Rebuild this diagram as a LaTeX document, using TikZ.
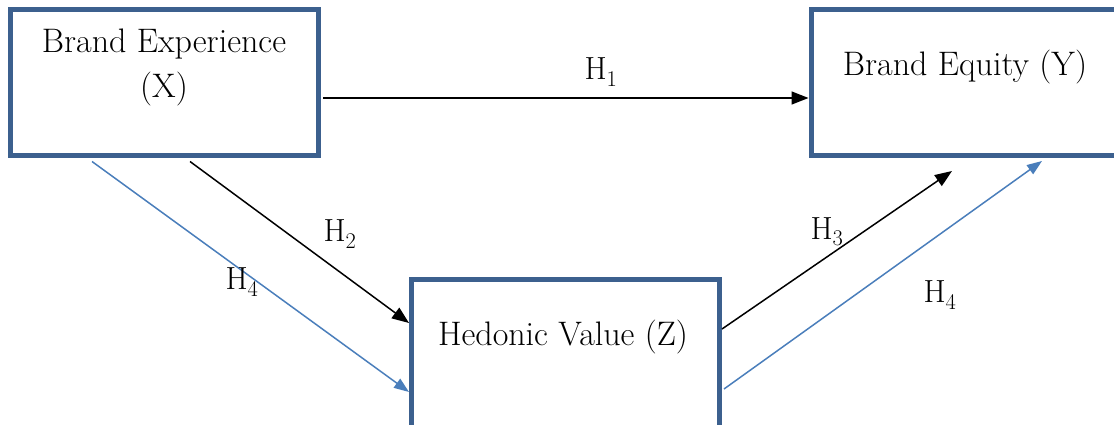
\documentclass[tikz,border=0pt]{standalone}
\usepackage{fontspec}
\setmainfont{Latin Modern Roman}
\usetikzlibrary{arrows.meta}
\definecolor{boxblue}{RGB}{60,96,142}
\definecolor{linkblue}{RGB}{74,126,187}
\tikzset{
  box/.style={draw=boxblue, line width=5pt, fill=white, rectangle, inner sep=0pt,
    minimum width=308pt, minimum height=146pt},
  boxtext/.style={align=center, inner sep=0pt, font=\fontsize{34}{45}\selectfont},
  hlabel/.style={inner sep=0pt, font=\fontsize{32}{34}\selectfont},
  blackarrow/.style={draw=black, line width=1.5pt, -{Triangle[length=17pt,width=13pt]}},
  bluearrow/.style={draw=linkblue, line width=1.5pt, -{Triangle[length=15pt,width=11pt]}, color=linkblue}
}
\begin{document}
\begin{tikzpicture}[x=1pt, y=-1pt]
\useasboundingbox (0,0) rectangle (1114,425);
\clip (0,0) rectangle (1114,425);
\node[box] (X) at (164,83) {};
\node[box, minimum width=320pt] (Y) at (971,82.5) {};
\node[box, minimum height=160pt] (Z) at (565.5,359) {};
\node[boxtext] (Xt) at (164,67) {Brand Experience\\(X)};
\node[boxtext] (Yt) at (965,67) {Brand Equity (Y)};
\node[boxtext] (Zt) at (563,337) {Hedonic Value (Z)};
\draw[blackarrow] ([xshift=2.5pt,yshift=-15pt]X.east) -- ([yshift=-15.5pt]Y.west);
\draw[blackarrow] ([xshift=26pt,yshift=-3pt]X.south) -- ([yshift=36pt]Z.west);
\draw[bluearrow] ([xshift=-72pt,yshift=-3pt]X.south) -- ([yshift=-33pt]Z.west);
\draw[blackarrow] ([yshift=30pt]Z.east) -- ([xshift=-19pt,yshift=-13pt]Y.south);
\draw[bluearrow] ([xshift=2pt,yshift=-30pt]Z.east) -- ([xshift=71pt,yshift=-3pt]Y.south);
\node[hlabel] (h1) at (601,72) {H\textsubscript{1}};
\node[hlabel] (h2) at (340,234) {H\textsubscript{2}};
\node[hlabel] (h4a) at (242,282) {H\textsubscript{4}};
\node[hlabel] (h3) at (827,232) {H\textsubscript{3}};
\node[hlabel] (h4b) at (940,295) {H\textsubscript{4}};
\end{tikzpicture}
\end{document}
